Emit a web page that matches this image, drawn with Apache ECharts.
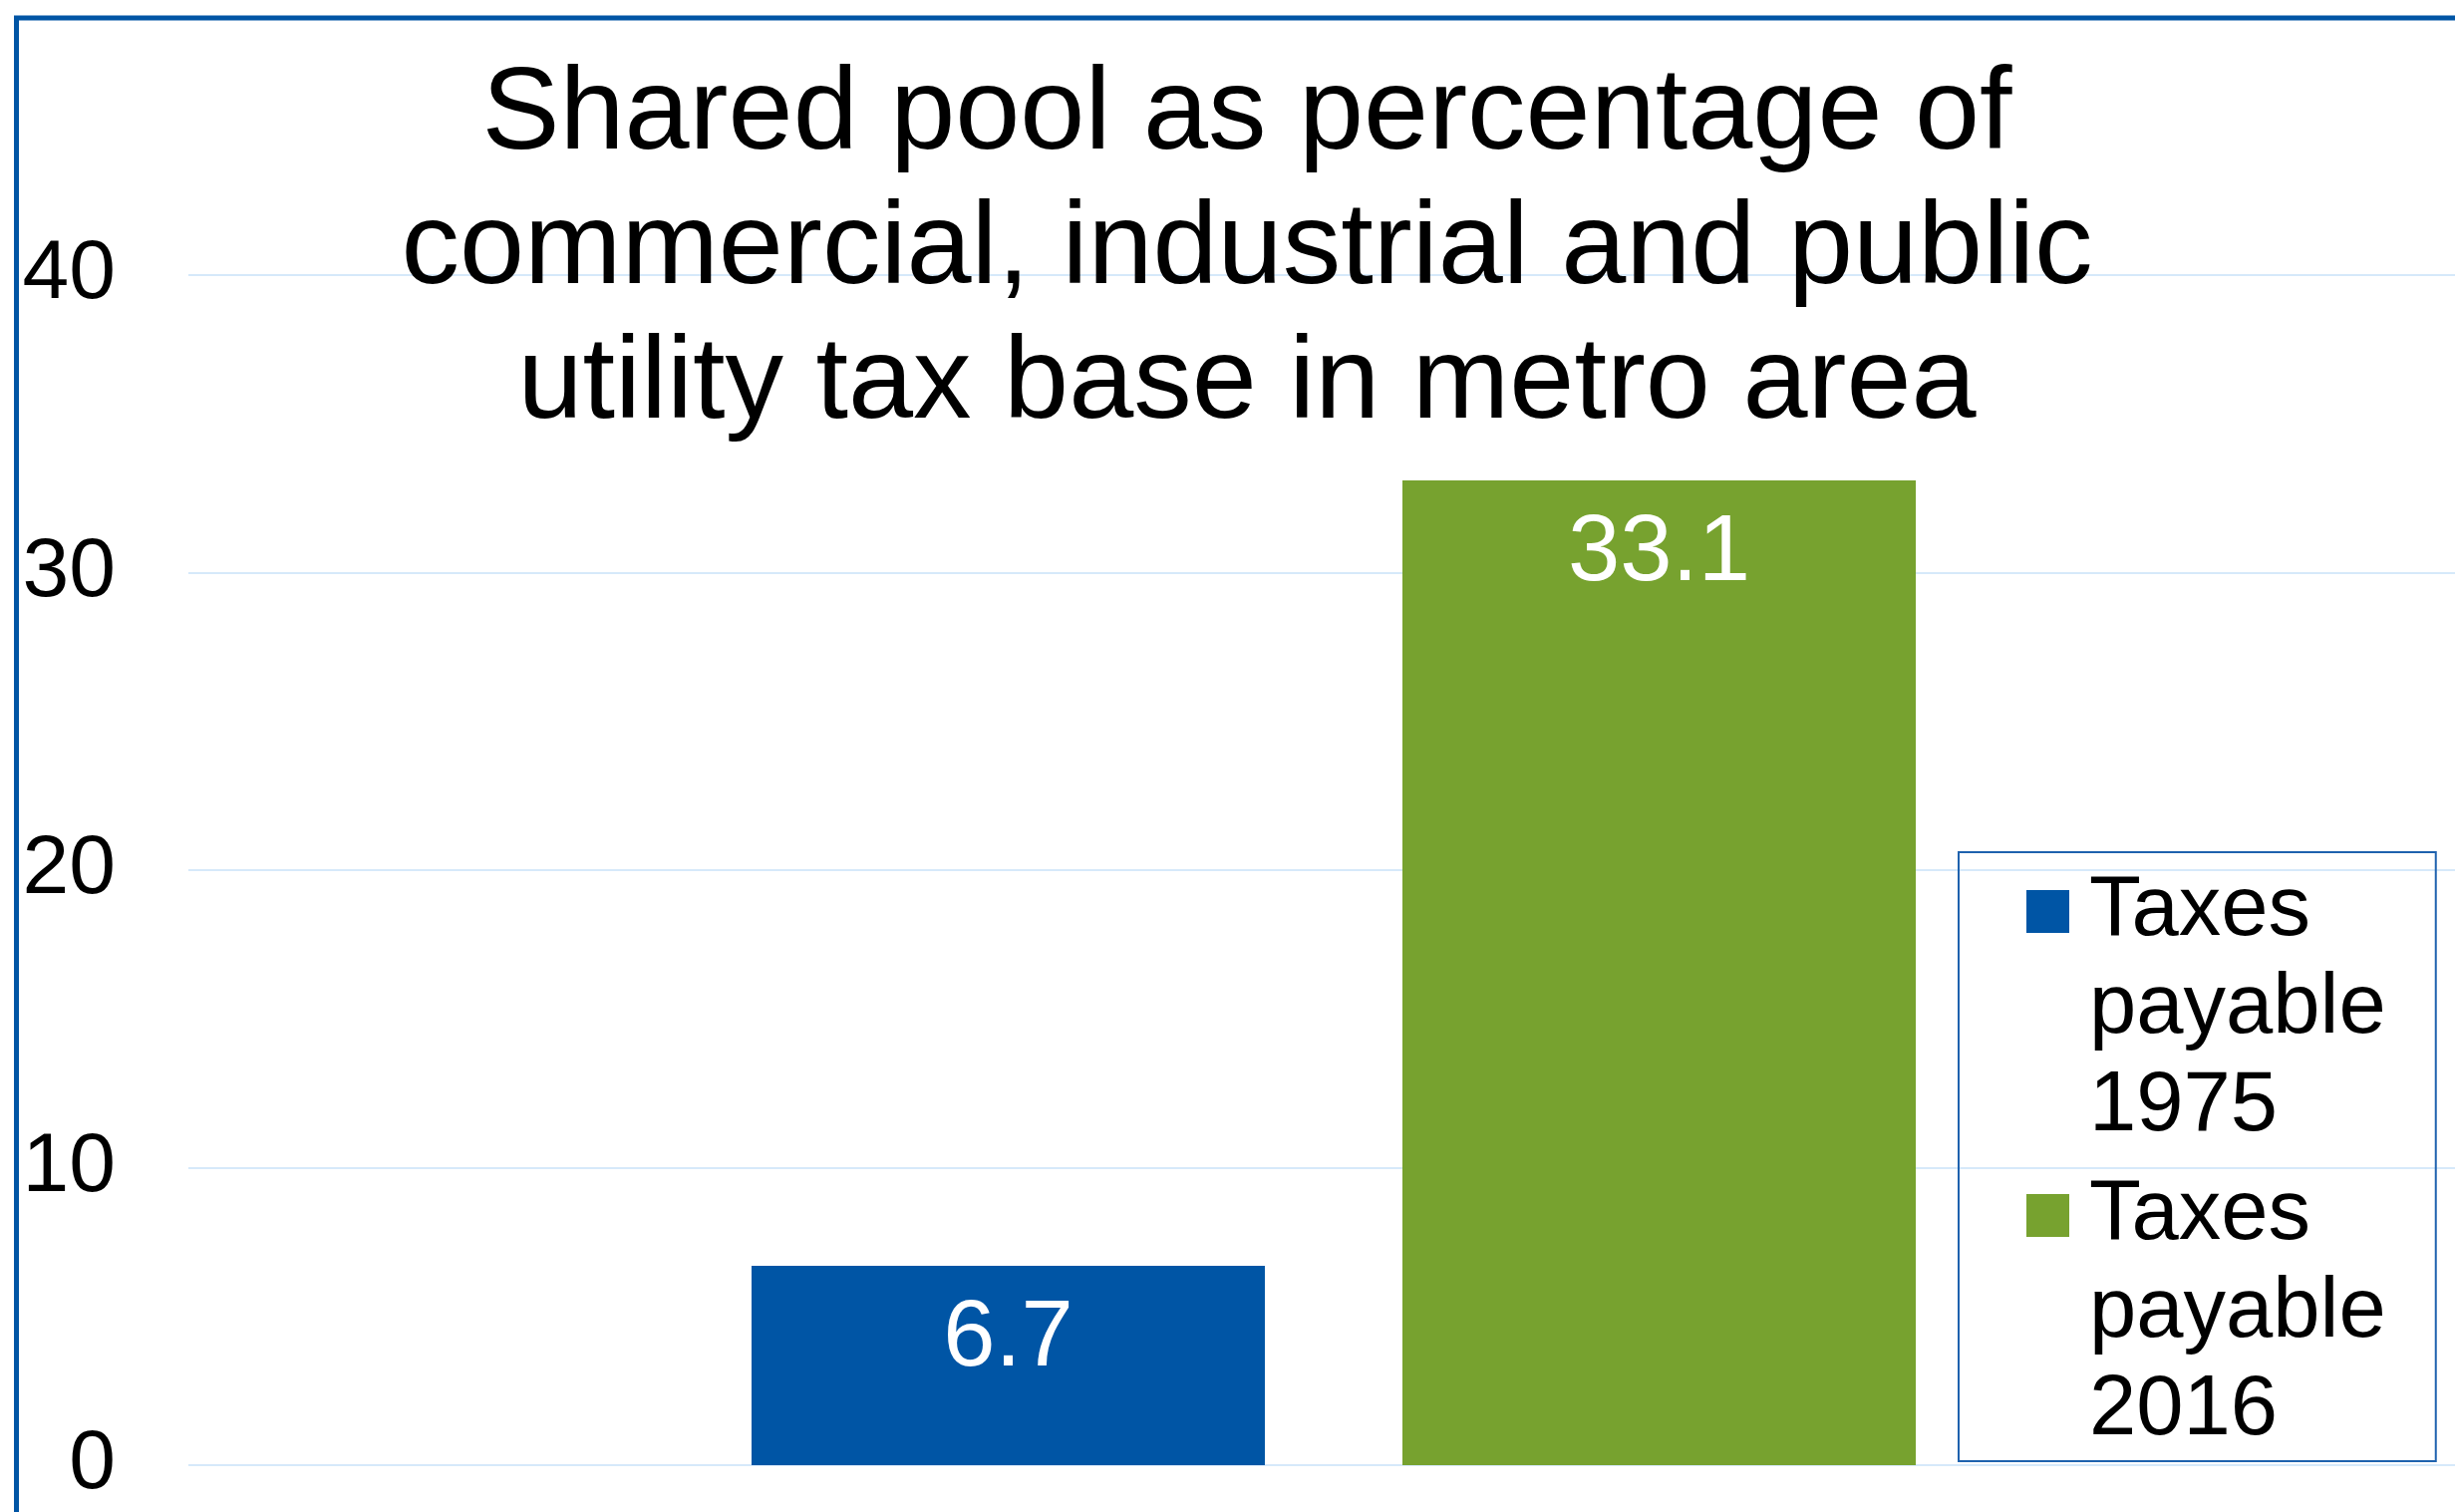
<!DOCTYPE html>
<html>
<head>
<meta charset="utf-8">
<script src="https://cdn.jsdelivr.net/npm/echarts@6/dist/echarts.min.js"></script>
<style>
html,body{margin:0;padding:0;background:#fff;}
#chart{width:2463px;height:1517px;}
</style>
</head>
<body>
<div id="chart"></div>
<script>
const titleText = 'Shared pool as percentage of\ncommercial, industrial and public\nutility tax base in metro area';
const categories = [''];
const seriesNames = ['Taxes\npayable\n1975', 'Taxes\npayable\n2016'];
const values1975 = [6.7];
const values2016 = [33.1];
const seriesColors = ['#0055A5', '#77A22F'];
const yTicks = { min: 0, max: 40, interval: 10 };

const FONT = '"Liberation Sans", Arial, sans-serif';
const chart = echarts.init(document.getElementById('chart'), null, { renderer: 'canvas' });

const labelOpt = {
  show: true,
  position: 'insideTop',
  distance: 27,
  color: '#fff',
  fontSize: 94,
  fontFamily: FONT
};

// square legend marker aligned with the first text line of a 3-line label
const legendIcon = 'path://M0,27.5L43,27.5L43,70.5L0,70.5Z M0,0L0,0 M0,294L0,294';

chart.setOption({
  animation: false,
  backgroundColor: '#fff',
  textStyle: { fontFamily: FONT },
  title: {
    text: titleText,
    left: 1251,
    top: 49,
    textAlign: 'center',
    padding: 0,
    textStyle: { fontSize: 117, lineHeight: 135, fontWeight: 'normal', color: '#000', fontFamily: FONT }
  },
  graphic: [{
    type: 'rect',
    silent: true,
    z: 100,
    shape: { x: 16.5, y: 18, width: 3000, height: 3000 },
    style: { fill: 'none', stroke: '#0055A5', lineWidth: 5 }
  }],
  grid: { left: 189, width: 2298, top: 276, bottom: 47, containLabel: false, outerBoundsMode: 'none' },
  legend: {
    orient: 'vertical',
    left: 1965,
    top: 855,
    padding: [10.5, 50, 1.5, 68],
    itemGap: 11,
    itemWidth: 43,
    itemHeight: 294,
    icon: legendIcon,
    borderColor: '#1F62AE',
    borderWidth: 2,
    borderRadius: 0,
    selectedMode: false,
    data: seriesNames,
    textStyle: {
      fontSize: 85,
      lineHeight: 98,
      color: '#000',
      fontFamily: FONT,
      padding: [0, 0, 0, 15]
    }
  },
  xAxis: {
    type: 'category',
    data: categories,
    axisLine: { show: false },
    axisTick: { show: false },
    axisLabel: { show: false },
    splitLine: { show: false }
  },
  yAxis: {
    type: 'value',
    min: yTicks.min,
    max: yTicks.max,
    interval: yTicks.interval,
    axisLine: { show: false },
    axisTick: { show: false },
    axisLabel: { color: '#000', fontSize: 84, margin: 73, fontFamily: FONT },
    splitLine: { show: true, lineStyle: { color: '#D6E9FA', width: 2 } }
  },
  series: [
    {
      name: seriesNames[0],
      type: 'bar',
      data: values1975,
      barWidth: 515,
      barGap: '26.8%',
      itemStyle: { color: seriesColors[0] },
      label: labelOpt
    },
    {
      name: seriesNames[1],
      type: 'bar',
      data: values2016,
      barWidth: 515,
      barGap: '26.8%',
      itemStyle: { color: seriesColors[1] },
      label: labelOpt
    }
  ]
});
</script>
</body>
</html>
